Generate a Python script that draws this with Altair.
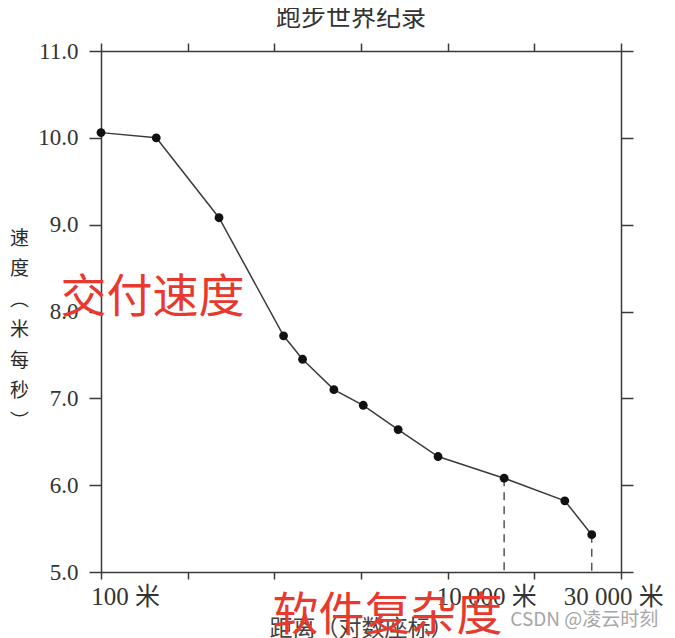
import altair as alt
import pandas as pd

# ---- data ----
distance_m = [100, 188, 385, 805, 1000, 1430, 2000, 2980, 4700, 10000, 20000, 27200]
speed_mps = [10.06, 10.0, 9.08, 7.72, 7.45, 7.10, 6.92, 6.64, 6.33, 6.08, 5.82, 5.43]
dashed_points = [9, 11]          # indices of points with a dashed drop line

x_tick_values = [100, 270, 725, 1950, 5250, 14100, 38000]
x_label_values = [100, 10000, 30000]
x_label_texts = ["100 米", "10 000 米", "30 000 米"]
x_label_offsets = [24, -18, 13]
y_tick_values = [5, 6, 7, 8, 9, 10, 11]

title_text = "跑步世界纪录"
y_title_chars = ["速", "度", "︵", "米", "每", "秒", "︶"]
x_title_text = "距离（对数座标）"

overlay_texts = ["交付速度", "软件复杂度"]
overlay_x = [180, 2640]
overlay_y = [8.16, 4.49]
watermark_text = ["CSDN @凌云时刻"]
watermark_x = [25000]
watermark_y = [4.45]

# ---- tables ----
df = pd.DataFrame({"dist": distance_m, "speed": speed_mps})
df_drop = df.iloc[dashed_points].assign(base=5.0)
df_over = pd.DataFrame({"x": overlay_x, "y": overlay_y, "t": overlay_texts})
df_wm = pd.DataFrame({"x": watermark_x, "y": watermark_y, "t": watermark_text})

AX = "#3a3a3a"
SERIF = "Liberation Serif"
CJK = "Noto Sans CJK SC"

xscale = alt.Scale(type="log", domain=[100, 38000], nice=False)
yscale = alt.Scale(domain=[5, 11], nice=False, zero=False)

label_expr = " : ".join(
    f"datum.value == {v} ? '{t}'" for v, t in zip(x_label_values, x_label_texts)
) + " : ''"

all_x_values = sorted(set(x_tick_values + x_label_values))
hide_tick_test = " || ".join(f"datum.value == {v}" for v in x_label_values[1:])

bottom_axis = alt.Axis(
    orient="bottom",
    values=all_x_values,
    labelExpr=label_expr,
    labelFont=SERIF + ", " + CJK,
    labelFontSize=25,
    labelColor="#333333",
    labelPadding=5,
    labelOffset={
        "condition": [
            {"test": f"datum.value == {x_label_values[0]}", "value": x_label_offsets[0]},
            {"test": f"datum.value == {x_label_values[2]}", "value": x_label_offsets[2]},
        ],
        "value": x_label_offsets[1],
    },
    labelOverlap=False,
    labelFlush=False,
    tickSize=7,
    tickWidth=1.5,
    tickColor=AX,
    tickOpacity={"condition": {"test": hide_tick_test, "value": 0}, "value": 1},
    domainColor=AX,
    domainWidth=1.5,
    grid=False,
    title=x_title_text,
    titleFont=CJK,
    titleFontSize=23,
    titleFontWeight="normal",
    titleColor="#444444",
    titleBaseline="top",
    titleY=45,
)

top_axis = alt.Axis(
    orient="top",
    values=x_tick_values,
    labels=False,
    tickSize=8,
    tickWidth=1.5,
    tickColor=AX,
    domainColor=AX,
    domainWidth=1.5,
    grid=False,
    title="",
)

left_axis = alt.Axis(
    orient="left",
    values=y_tick_values,
    format=".1f",
    labelFont=SERIF,
    labelFontSize=23,
    labelColor="#333333",
    labelPadding=11,
    tickSize=12,
    tickWidth=1.5,
    tickColor=AX,
    domainColor=AX,
    domainWidth=1.5,
    grid=False,
    title=y_title_chars,
    titleFont=CJK,
    titleFontSize=19,
    titleFontWeight="normal",
    titleColor="#2a2a2a",
    titleAngle=0,
    titleAlign="center",
    titleBaseline="top",
    titleLineHeight=30.5,
    titleX=-82,
    titleY=178,
)

right_axis = alt.Axis(
    orient="right",
    values=y_tick_values,
    labels=False,
    tickSize=12,
    tickWidth=1.5,
    tickColor=AX,
    domainColor=AX,
    domainWidth=1.5,
    grid=False,
    title="",
)

line = alt.Chart(df).mark_line(color="#3c3c3c", strokeWidth=1.5).encode(
    x=alt.X("dist:Q", scale=xscale, axis=bottom_axis),
    y=alt.Y("speed:Q", scale=yscale, axis=left_axis),
)

points = alt.Chart(df).mark_point(filled=True, color="#111111", size=78, opacity=1).encode(
    x=alt.X("dist:Q", scale=xscale, axis=top_axis),
    y=alt.Y("speed:Q", scale=yscale, axis=right_axis),
)

drops = alt.Chart(df_drop).mark_rule(color="#555555", strokeWidth=1.5, strokeDash=[8, 6]).encode(
    x=alt.X("dist:Q", scale=xscale, axis=None),
    y=alt.Y("speed:Q", scale=yscale, axis=None),
    y2="base:Q",
)

overlay = alt.Chart(df_over).mark_text(
    font=CJK, fontSize=46, color="#E8392E", align="center", baseline="middle"
).encode(
    x=alt.X("x:Q", scale=xscale, axis=None),
    y=alt.Y("y:Q", scale=yscale, axis=None),
    text="t:N",
)

wm = alt.Chart(df_wm).mark_text(
    font=CJK, fontSize=19, color="#A6A6A6", align="center", baseline="middle"
).encode(
    x=alt.X("x:Q", scale=xscale, axis=None),
    y=alt.Y("y:Q", scale=yscale, axis=None),
    text="t:N",
)

chart = (
    alt.layer(line, drops, points, overlay, wm)
    .resolve_axis(x="independent", y="independent")
    .properties(
        width=520,
        height=521,
        autosize=alt.AutoSizeParams(type="none"),
        padding={"left": 93, "top": 43, "right": 46, "bottom": 66},
        title=alt.TitleParams(
            title_text,
            font=CJK,
            fontSize=25,
            fontWeight="normal",
            color="#333333",
            anchor="middle",
            dx=-10,
            offset=9,
        ),
        background="white",
    )
    .configure_view(strokeOpacity=0)
)

chart.save("out.html", embed_options={"renderer": "svg", "actions": False})
